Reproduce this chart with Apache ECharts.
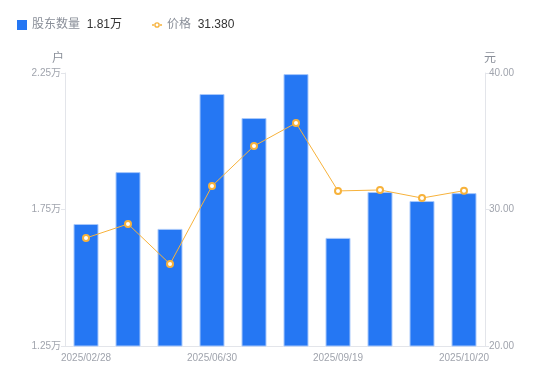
<!DOCTYPE html>
<html><head><meta charset="utf-8">
<script src="https://cdn.jsdelivr.net/npm/echarts@6/dist/echarts.min.js"></script>
<style>html,body{margin:0;padding:0;background:#fff}#c{width:550px;height:381px}</style>
</head><body><div id="c"></div>
<script>
const categories = ['2025/02/28','2025/03/31','2025/04/30','2025/06/30','2025/07/31','2025/08/29','2025/09/19','2025/09/30','2025/10/10','2025/10/20'];
const holders = [16970, 18870, 16790, 21730, 20850, 22460, 16460, 18140, 17810, 18100];
const prices = [27.91, 28.94, 26.00, 31.72, 34.65, 36.34, 31.36, 31.43, 30.84, 31.38];
const leftTicks = {min: 12500, max: 22500, interval: 5000};
const rightTicks = {min: 20, max: 40, interval: 10};

const font = '"Liberation Sans", "Noto Sans CJK SC", sans-serif';
const lineIcon = 'path://M0 5.2 L3 5.2 L3 6.8 L0 6.8 Z M9 5.2 L12 5.2 L12 6.8 L9 6.8 Z M9.4 6 A3.4 3.4 0 1 0 2.6 6 A3.4 3.4 0 1 0 9.4 6 Z M7.7 6 A1.7 1.7 0 1 1 4.3 6 A1.7 1.7 0 1 1 7.7 6 Z';
const chart = echarts.init(document.getElementById('c'), null, {renderer: 'canvas'});
const lastH = (holders[holders.length-1]/10000).toFixed(2) + '万';
const lastP = prices[prices.length-1].toFixed(3);
chart.setOption({
  animation: false,
  textStyle: {fontFamily: font},
  legend: {
    left: 12, top: 14, itemWidth: 10, itemHeight: 10, itemGap: 30,
    data: [
      {name: '股东数量', icon: 'rect', itemStyle: {borderWidth: 0, color: '#2577f3'}},
      {name: '价格', icon: lineIcon, itemStyle: {color: '#f7b23b', borderWidth: 0}}
    ],
    formatter: function (n) { return n === '股东数量' ? '{a|' + n + '}  {b|' + lastH + '}' : '{a|' + n + '}  {b|' + lastP + '}'; },
    textStyle: {fontFamily: font, rich: {a: {color: '#8a8f99', fontSize: 12, fontFamily: font}, b: {color: '#333', fontSize: 12, fontFamily: font}}}
  },
  grid: {left: 65, right: 65, top: 73, bottom: 35},
  xAxis: {
    type: 'category', data: categories,
    axisLine: {lineStyle: {color: '#e3e5ea'}},
    axisTick: {show: false},
    axisLabel: {interval: 2, color: '#a0a4ad', fontSize: 10, fontFamily: font, margin: 7}
  },
  yAxis: [{
    type: 'value', name: '户', min: leftTicks.min, max: leftTicks.max, interval: leftTicks.interval,
    nameTextStyle: {color: '#8a8f99', fontSize: 12, padding: [0, 0, 0, -14]},
    nameGap: 8,
    axisLine: {show: true, lineStyle: {color: '#e3e5ea'}},
    axisTick: {show: true, length: 4, lineStyle: {color: '#e3e5ea'}},
    splitLine: {show: false},
    axisLabel: {color: '#a0a4ad', fontSize: 10, fontFamily: font, margin: 4, formatter: v => (v/10000).toFixed(2) + '万'}
  }, {
    type: 'value', name: '元', min: rightTicks.min, max: rightTicks.max, interval: rightTicks.interval,
    nameTextStyle: {color: '#8a8f99', fontSize: 12, padding: [0, -10, 0, 0]},
    nameGap: 8,
    axisLine: {show: true, lineStyle: {color: '#e3e5ea'}},
    axisTick: {show: true, length: 4, lineStyle: {color: '#e3e5ea'}},
    splitLine: {show: false},
    axisLabel: {color: '#a0a4ad', fontSize: 10, fontFamily: font, margin: 4, formatter: v => v.toFixed(2)}
  }],
  series: [{
    name: '股东数量', type: 'bar', data: holders, barWidth: 25,
    itemStyle: {color: '#2577f3', borderColor: '#a9c9fb', borderWidth: 1}
  }, {
    name: '价格', type: 'line', yAxisIndex: 1, data: prices,
    symbol: 'emptyCircle', symbolSize: 6,
    lineStyle: {color: '#f7b23b', width: 1},
    itemStyle: {color: '#f7b23b', borderWidth: 1.5}
  }]
});
</script></body></html>
